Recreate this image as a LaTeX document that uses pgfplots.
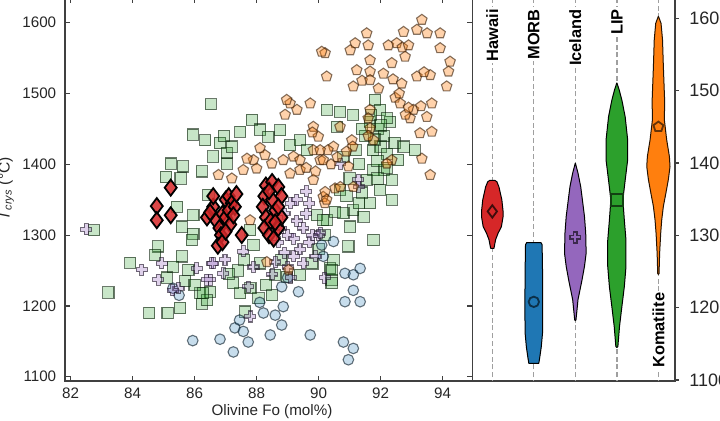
\documentclass[border=0pt]{standalone}
\usepackage{fontspec}
\setmainfont{Liberation Sans}
\usepackage{pgfplots}
\pgfplotsset{compat=1.18}
\definecolor{hawc}{HTML}{D62728}
\definecolor{morc}{HTML}{1F77B4}
\definecolor{icec}{HTML}{9467BD}
\definecolor{lipc}{HTML}{2CA02C}
\definecolor{komc}{HTML}{FF7F0E}
\definecolor{axgray}{HTML}{404040}
\definecolor{txtgray}{HTML}{262626}
\pgfdeclareplotmark{fplus}{%
  \pgfpathmoveto{\pgfqpoint{-.36\pgfplotmarksize}{\pgfplotmarksize}}%
  \pgfpathlineto{\pgfqpoint{.36\pgfplotmarksize}{\pgfplotmarksize}}%
  \pgfpathlineto{\pgfqpoint{.36\pgfplotmarksize}{.36\pgfplotmarksize}}%
  \pgfpathlineto{\pgfqpoint{\pgfplotmarksize}{.36\pgfplotmarksize}}%
  \pgfpathlineto{\pgfqpoint{\pgfplotmarksize}{-.36\pgfplotmarksize}}%
  \pgfpathlineto{\pgfqpoint{.36\pgfplotmarksize}{-.36\pgfplotmarksize}}%
  \pgfpathlineto{\pgfqpoint{.36\pgfplotmarksize}{-\pgfplotmarksize}}%
  \pgfpathlineto{\pgfqpoint{-.36\pgfplotmarksize}{-\pgfplotmarksize}}%
  \pgfpathlineto{\pgfqpoint{-.36\pgfplotmarksize}{-.36\pgfplotmarksize}}%
  \pgfpathlineto{\pgfqpoint{-\pgfplotmarksize}{-.36\pgfplotmarksize}}%
  \pgfpathlineto{\pgfqpoint{-\pgfplotmarksize}{.36\pgfplotmarksize}}%
  \pgfpathlineto{\pgfqpoint{-.36\pgfplotmarksize}{.36\pgfplotmarksize}}%
  \pgfpathclose\pgfusepathqfillstroke}
\pgfplotsset{
  common/.style={
    scale only axis, anchor=south west,
    axis line style={line width=0.8pt, color=axgray},
    tick style={line width=0.6pt, color=axgray},
    ticklabel style={font=\fontsize{7.6}{8}\selectfont, text=txtgray},
    /pgf/number format/assume math mode=true,
    /pgf/number format/1000 sep={},
    scaled ticks=false,
  },
  sc/.style 2 args={only marks, mark options={fill=#1, fill opacity=#2, draw=black!80!#1, draw opacity=0.6, line width=0.55pt}},
  vline/.style={gray!75, dash pattern=on 2.5pt off 1.4pt, line width=0.65pt},
}
\tikzset{vlab/.style={rotate=90, fill=white, inner sep=1pt, font=\fontsize{8.2}{9}\bfseries\selectfont}}
\begin{document}
\begin{tikzpicture}
\begin{axis}[common,
  at={(32.5pt,20pt)}, width=203.85pt, height=191.55pt,
  xmin=81.82, xmax=94.97, ymin=1094, ymax=1635,
  xtick={82,84,...,94}, ytick={1100,1200,...,1600},
  tick align=inside, major tick length=2.7pt,
  xticklabel style={anchor=north, inner sep=0pt, yshift=-3.2pt},
  yticklabel style={anchor=east, inner sep=0pt, xshift=-4.2pt},
  clip=true]
% LIP
\addplot[sc={lipc}{0.26}, mark=square*, mark size=2.8pt] table {
x y
86.52 1485
85.94 1442
86.34 1434
86.82 1430
87.04 1416
86.6 1411
87.04 1401
86.95 1440
87.2 1425
85.23 1401
85.62 1397
85.08 1382
85.55 1380
86.23 1390
86.45 1357
85.43 1340
85.96 1328
85.59 1312
85.96 1302
85.91 1293
82.76 1307
84.83 1284
84.73 1272
83.92 1261
83.22 1219
84.54 1190
85.13 1190
85.53 1197
86.23 1203
85.59 1270
85.8 1251
86.18 1218
86.5 1220
85.3 1255
85.1 1240
85.7 1235
86.0 1230
86.4 1208
86.28 1218
87.85 1463
88.11 1449
87.47 1446
88.38 1439
88.76 1448
89.08 1427
89.4 1434
89.62 1420
87.79 1307
87.9 1286
88.6 1244
88.97 1241
89.4 1244
87.47 1218
88.06 1211
88.49 1215
87.25 1232
87.63 1192
87.8 1225
88.3 1230
87.4 1250
87.1 1245
88.1 1260
90.37 1253
90.42 1237
90.26 1321
89.94 1328
90.53 1333
90.2 1300
90.0 1280
89.8 1260
90.26 1477
90.69 1474
91.12 1470
90.59 1453
91.82 1491
91.98 1477
91.65 1460
91.9 1450
92.1 1440
92.3 1460
92.0 1425
91.75 1420
92.2 1415
92.45 1430
92.74 1425
93.1 1420
92.57 1406
91.77 1392
92.1 1392
91.55 1378
92.36 1378
91.98 1364
92.36 1350
91.12 1335
91.66 1345
90.8 1331
91.45 1326
91.02 1312
91.77 1293
90.96 1284
90.48 1265
90.42 1251
90.42 1232
90.15 1321
90.69 1364
91.3 1400
91.0 1380
91.4 1360
90.9 1355
91.2 1420
91.5 1440
90.8 1410
91.9 1405
92.2 1465
91.8 1435
87.6 1265
88.8 1265
91.7 1470
92.0 1455
91.4 1450
91.9 1380
92.2 1395
91.3 1345
};
% MORB
\addplot[sc={morc}{0.25}, mark=*, mark size=2.65pt] table {
x y
85.94 1151
86.82 1153
87.25 1135
87.3 1169
85.3 1225
85.5 1215
88.81 1227
89.35 1220
88.86 1199
88.22 1190
88.6 1187
88.81 1173
87.57 1164
87.73 1149
88.44 1159
89.73 1159
90.48 1291
90.1 1286
90.15 1270
90.85 1246
91.12 1244
91.34 1253
91.12 1222
90.85 1206
91.34 1206
90.8 1149
91.12 1140
90.96 1124
87.45 1180
88.1 1205
89.0 1240
};
% Iceland
\addplot[sc={icec}{0.3}, mark=fplus, mark size=2.75pt] table {
x y
82.5 1308
84.3 1251
84.94 1260
84.83 1237
85.48 1225
85.3 1222
86.07 1253
86.55 1260
86.5 1237
86.6 1260
86.98 1265
86.93 1246
86.39 1237
87.73 1227
87.79 1185
87.57 1277
87.9 1255
88.9 1330
89.1 1345
89.3 1320
89.0 1300
89.5 1310
89.7 1290
89.4 1280
89.2 1270
88.9 1275
88.7 1290
89.6 1330
89.8 1300
89.9 1270
89.5 1260
89.0 1255
88.8 1310
89.3 1350
89.7 1345
89.2 1295
90.0 1300
88.6 1262
89.1 1240
90.2 1240
90.7 1401
91.28 1378
91.3 1368
90.05 1303
88.5 1245
89.6 1362
};
% Komatiite
\addplot[sc={komc}{0.35}, mark=pentagon*, mark size=2.75pt] table {
x y
93.33 1604
93.17 1590
92.74 1587
93.92 1585
93.5 1585
93.92 1564
91.55 1585
91.18 1571
91.02 1561
91.6 1568
92.25 1568
92.52 1571
92.7 1565
92.9 1568
92.79 1552
92.36 1543
92.09 1528
91.23 1533
91.66 1531
91.66 1547
91.12 1510
91.4 1518
91.66 1519
91.93 1507
92.68 1514
93.17 1524
93.6 1526
94.24 1545
94.19 1531
94.13 1510
93.4 1530
92.47 1494
92.63 1486
93.06 1477
93.3 1482
93.49 1467
93.65 1486
93.65 1446
93.27 1444
92.95 1465
92.8 1470
91.66 1477
91.6 1465
91.66 1451
91.77 1434
91.6 1440
93.33 1408
93.6 1385
92.36 1406
92.2 1401
90.21 1557
90.26 1524
90.69 1453
91.07 1434
91.1 1425
90.9 1418
90.48 1425
90.3 1420
90.6 1410
90.05 1406
90.4 1400
90.96 1397
90.53 1366
90.15 1354
90.2 1345
90.7 1368
91.12 1368
89.08 1486
89.3 1477
88.92 1470
89.73 1486
89.83 1453
89.99 1439
89.8 1445
88.11 1423
88.27 1413
87.9 1406
87.69 1408
87.57 1392
88.0 1394
88.49 1401
88.86 1406
89.19 1411
89.4 1406
89.4 1392
89.08 1387
89.83 1420
90.05 1420
90.15 1406
90.21 1361
90.26 1350
86.77 1385
87.79 1321
89.03 1251
88.33 1262
89.83 1378
89.6 1395
89.9 1390
88.97 1491
90.1 1559
87.2 1380
92.9 1480
92.6 1500
92.4 1520
};
% Hawaii
\addplot[only marks, mark=diamond*, mark size=4.0pt, mark options={fill=hawc, fill opacity=0.85, draw=black, line width=0.9pt}] table {
x y
85.23 1367
84.78 1341
84.78 1321
85.23 1328
86.4 1325
86.6 1340
86.7 1320
86.8 1310
86.9 1330
87.0 1350
87.1 1355
87.2 1345
87.0 1325
86.85 1300
86.75 1285
86.9 1290
87.1 1335
87.3 1340
87.15 1315
86.6 1355
87.35 1358
87.52 1300
87.0 1305
86.5 1332
87.25 1328
88.3 1370
88.5 1375
88.7 1368
88.8 1355
88.25 1355
88.2 1340
88.3 1325
88.25 1310
88.4 1300
88.55 1295
88.7 1310
88.8 1325
88.6 1335
88.5 1350
88.45 1320
88.7 1340
88.4 1362
88.6 1318
};
\end{axis}
\begin{axis}[common,
  at={(236.35pt,20pt)}, width=101.15pt, height=191.55pt,
  xmin=0.528, xmax=5.40, ymin=1098.6, ymax=1628.2,
  xtick=\empty, ytick={1100,1200,...,1600},
  ytick pos=right, yticklabel pos=right,
  tick align=outside, major tick length=2pt,
  yticklabel style={anchor=west, inner sep=0pt, xshift=5pt, font=\fontsize{9}{10}\selectfont},
  clip=true]
\addplot[vline] coordinates {(1,1050) (1,1700)};
\addplot[vline] coordinates {(2,1050) (2,1700)};
\addplot[vline] coordinates {(3,1050) (3,1700)};
\addplot[vline] coordinates {(4,1050) (4,1700)};
\addplot[vline] coordinates {(5,1050) (5,1700)};
% violins
\addplot[fill=hawc, draw=black, line width=0.5pt, line join=round] coordinates {(1,1376) (1.06,1376) (1.11,1374) (1.16,1367) (1.23,1349) (1.26,1333) (1.26,1326) (1.22,1312) (1.14,1303) (1.08,1294) (1.05,1285) (1.04,1282) (0.96,1282) (0.95,1285) (0.92,1294) (0.86,1303) (0.78,1312) (0.74,1326) (0.74,1333) (0.77,1349) (0.84,1367) (0.89,1374) (0.94,1376) (1,1376)};
\addplot[fill=morc, draw=black, line width=0.5pt, line join=round] coordinates {(2,1290) (2.17,1290) (2.2,1287) (2.21,1250) (2.215,1200) (2.21,1165) (2.18,1146) (2.14,1130) (2.12,1123) (1.88,1123) (1.86,1130) (1.82,1146) (1.79,1165) (1.785,1200) (1.79,1250) (1.8,1287) (1.83,1290) (2,1290)};
\addplot[fill=icec, draw=black, line width=0.5pt, line join=round] coordinates {(3,1400) (3.064,1386) (3.13,1367) (3.17,1349) (3.22,1326) (3.25,1303) (3.26,1275) (3.22,1257) (3.16,1238) (3.11,1224) (3.064,1211) (3.04,1197) (3.015,1183) (3,1182) (2.985,1183) (2.96,1197) (2.936,1211) (2.89,1224) (2.84,1238) (2.78,1257) (2.74,1275) (2.75,1303) (2.78,1326) (2.83,1349) (2.87,1367) (2.936,1386) (3,1400)};
\addplot[fill=lipc, draw=black, line width=0.5pt, line join=round] coordinates {(4,1511) (4.056,1501) (4.12,1487) (4.2,1464) (4.26,1432) (4.26,1404) (4.2,1376) (4.145,1349) (4.18,1321) (4.22,1293) (4.22,1257) (4.18,1229) (4.12,1201) (4.064,1174) (4.024,1146) (4,1145) (3.976,1146) (3.936,1174) (3.88,1201) (3.82,1229) (3.78,1257) (3.78,1293) (3.82,1321) (3.855,1349) (3.8,1376) (3.74,1404) (3.74,1432) (3.8,1464) (3.88,1487) (3.944,1501) (4,1511)};
\addplot[fill=komc, draw=black!85!komc, line width=0.5pt, line join=round] coordinates {(5,1603) (5.064,1593) (5.1,1570) (5.12,1533) (5.15,1487) (5.145,1459) (5.2,1432) (5.265,1409) (5.28,1395) (5.24,1377) (5.18,1358) (5.12,1340) (5.08,1321) (5.056,1303) (5.03,1275) (5.016,1247) (5,1246) (4.984,1247) (4.97,1275) (4.944,1303) (4.92,1321) (4.88,1340) (4.82,1358) (4.76,1377) (4.72,1395) (4.735,1409) (4.8,1432) (4.855,1459) (4.85,1487) (4.88,1533) (4.9,1570) (4.936,1593) (5,1603)};
% medians
\addplot[only marks, mark=diamond*, mark size=3.1pt, mark options={fill=hawc, draw=black!70!hawc, line width=0.9pt}] coordinates {(1,1333)};
\addplot[only marks, mark=*, mark size=2.6pt, mark options={fill=morc, draw=black!60!morc, line width=0.9pt}] coordinates {(2,1208)};
\addplot[only marks, mark=fplus, mark size=2.6pt, mark options={fill=icec, draw=black!60!icec, line width=0.9pt}] coordinates {(3,1297)};
\addplot[only marks, mark=square*, mark size=3.0pt, mark options={fill=lipc, draw=black!60!lipc, line width=0.9pt}] coordinates {(4,1349)};
\addplot[only marks, mark=pentagon*, mark size=2.6pt, mark options={fill=komc, draw=black!60!komc, line width=0.9pt}] coordinates {(5,1450)};
\node[vlab, anchor=east] at (axis cs:1,1615.7) {Hawaii};
\node[vlab, anchor=east] at (axis cs:2,1615.7) {MORB};
\node[vlab, anchor=east] at (axis cs:3,1615.7) {Iceland};
\node[vlab, anchor=east] at (axis cs:4,1615.7) {LIP};
\node[vlab, anchor=west] at (axis cs:5,1113.8) {Komatiite};
\end{axis}
\node[rotate=90, font=\fontsize{7.8}{8}\selectfont, text=txtgray] at (3pt,116pt) {\textit{T}\textsubscript{\textit{crys}} (°C)};
\node[font=\fontsize{7.6}{8}\selectfont, text=txtgray] at (136pt,4.5pt) {Olivine Fo (mol\%)};
\pgfresetboundingbox
\path[use as bounding box] (0,0) rectangle (360pt,210.5pt);
\end{tikzpicture}
\end{document}
